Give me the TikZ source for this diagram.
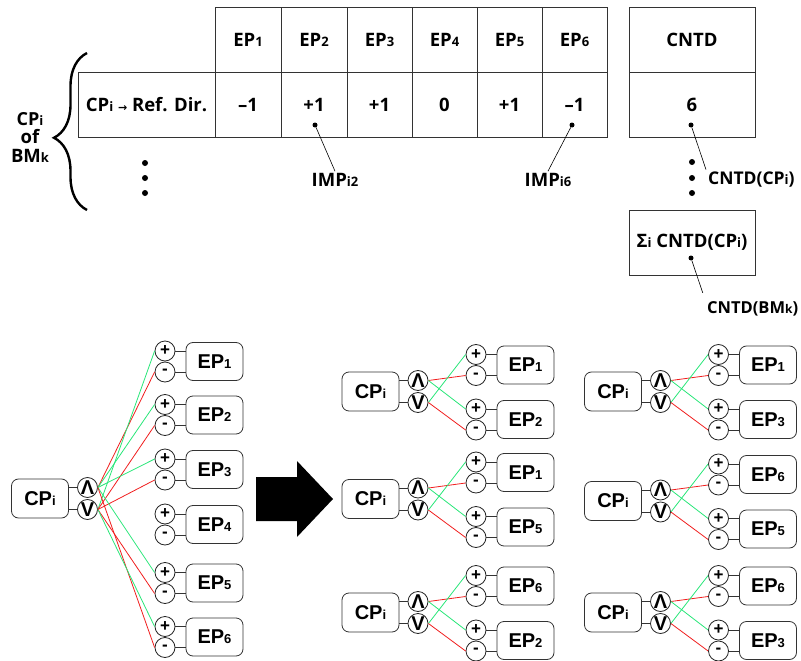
\documentclass[tikz,border=0pt]{standalone}
\usepackage{fontspec}
\usetikzlibrary{decorations.pathreplacing}
\newfontfamily\topf{Open Sans}
\newfontfamily\botf{Liberation Sans}
\newfontfamily\dvf{DejaVu Sans}
\definecolor{lgreen}{RGB}{40,230,120}
\definecolor{lred}{RGB}{240,30,30}
\newcommand\sbt[1]{{\fontsize{13}{13}\selectfont #1}}
\newcommand\sbb[1]{{\fontsize{13}{13}\selectfont #1}}
\tikzset{
  tfont/.style={font={\topf\bfseries\fontsize{18.5}{18.5}\selectfont}},
  cell/.style={draw=black!80, line width=0.8pt, minimum width=#1, minimum height=65pt, inner sep=0pt, tfont},
  lbl/.style={inner sep=2pt, tfont},
  dot/.style={circle, fill=black, minimum size=6pt, inner sep=0pt},
  sdot/.style={circle, fill=black, minimum size=5pt, inner sep=0pt},
  ann/.style={draw=black, line width=0.6pt},
  bfont/.style={font={\botf\bfseries\fontsize{20}{20}\selectfont}},
  cpbox/.style={draw=black!80, line width=0.8pt, rounded corners=7pt, minimum width=57pt, minimum height=39pt, inner sep=0pt, bfont},
  epbox/.style={draw=black!80, line width=0.8pt, rounded corners=7pt, minimum width=57pt, minimum height=38pt, inner sep=0pt, bfont},
  circ/.style={circle, draw=black!85, line width=0.8pt, minimum size=20pt, inner sep=0pt, font={\botf\bfseries\fontsize{17}{17}\selectfont}},
  lcirc/.style={circ, font={\botf\bfseries\fontsize{20}{20}\selectfont}},
  conn/.style={draw=black!80, line width=0.8pt},
  gl/.style={draw=lgreen, line width=0.8pt},
  rl/.style={draw=lred, line width=0.8pt},
}
\newcommand\CPunit[3]{%
  \node[cpbox] (#1) at (#2,#3) {CP\sbb{i}};
  \node[lcirc] (#1u) at (#2+47.5,#3-11) {Λ};
  \node[lcirc] (#1d) at (#2+47.5,#3+11) {V};
  \draw[conn] (#1u.west -| #1.east) -- (#1u.west);
  \draw[conn] (#1d.west -| #1.east) -- (#1d.west);
}
\newcommand\EPunit[4]{%
  \node[circ] (#1p) at (#2,#3-10.5) {+};
  \node[circ] (#1m) at (#2,#3+10.5) {-};
  \node[epbox] (#1b) at (#2+49.5,#3) {EP\sbb{#4}};
  \draw[conn] (#1p.east) -- (#1p.east -| #1b.west);
  \draw[conn] (#1m.east) -- (#1m.east -| #1b.west);
}
\newcommand\Group[5]{%
  \CPunit{#1}{#2}{#3}
  \EPunit{#1a}{#2+105.5}{#3-26.5}{#4}
  \EPunit{#1b}{#2+105.5}{#3+28}{#5}
  \draw[rl] (#1u.east) -- (#1am.west);
  \draw[gl] (#1u.east) -- (#1bp.west);
  \draw[gl] (#1d.east) -- (#1ap.west);
  \draw[rl] (#1d.east) -- (#1bm.west);
}
\begin{document}
\begin{tikzpicture}[x=1pt,y=-1pt]
\useasboundingbox (0,0) rectangle (801,661);
% ---------- table ----------
\node[cell=66pt] (h1) at (248,39.5) {EP\sbt{1}};
\node[cell=66pt] (h2) at (314,39.5) {EP\sbt{2}};
\node[cell=65pt] (h3) at (379.5,39.5) {EP\sbt{3}};
\node[cell=65pt] (h4) at (444.5,39.5) {EP\sbt{4}};
\node[cell=65pt] (h5) at (509.5,39.5) {EP\sbt{5}};
\node[cell=65pt] (h6) at (574.5,39.5) {EP\sbt{6}};
\node[cell=137pt] (rlab) at (146.5,104.5) {CP\sbt{i} {\dvf\fontsize{11}{11}\selectfont →} Ref. Dir.};
\node[cell=66pt] (r1) at (248,104.5) {–1};
\node[cell=66pt] (r2) at (314,104.5) {+1};
\node[cell=65pt] (r3) at (379.5,104.5) {+1};
\node[cell=65pt] (r4) at (444.5,104.5) {0};
\node[cell=65pt] (r5) at (509.5,104.5) {+1};
\node[cell=65pt] (r6) at (574.5,104.5) {–1};
\node[cell=126pt] (ch) at (692,39.5) {CNTD};
\node[cell=126pt] (cv) at (692,104.5) {6};
\node[cell=126pt] (sb) at (692,242.5) {Σ\sbt{i} CNTD(CP\sbt{i})};
% dots
\node[dot] (v1) at (145,163) {};
\node[dot] (v2) at (145,178) {};
\node[dot] (v3) at (145,193) {};
\node[dot] (w1) at (692,162) {};
\node[dot] (w2) at (692,178) {};
\node[dot] (w3) at (692,193) {};
% annotations
\node[sdot] (a1) at (315,125) {};
\node[sdot] (a2) at (572,125) {};
\node[sdot] (a3) at (691,125) {};
\node[sdot] (a4) at (691,258) {};
\node[lbl] (l1) at (335,180) {IMP\sbt{i2}};
\node[lbl] (l2) at (548,180) {IMP\sbt{i6}};
\node[lbl, anchor=west, font={\topf\bfseries\fontsize{17.5}{17.5}\selectfont}] (l3) at (706,179.5) {CNTD(CP\sbt{i})};
\node[lbl, anchor=west, font={\topf\bfseries\fontsize{16.5}{16.5}\selectfont}] (l4) at (705,309) {CNTD(BM{\fontsize{12}{12}\selectfont k})};
\draw[ann] (a1) -- (l1.north);
\draw[ann] (a2) -- (l2.north);
\draw[ann] (a3) -- (l3.north west);
\draw[ann, shorten >=7pt] (a4) -- (l4.north west);
% brace and left label
\coordinate (brb) at (87,210);
\coordinate (brt) at (87,53);
\draw[line width=2.4pt, decorate, decoration={brace, amplitude=33pt, aspect=0.46}] (brb) -- (brt);
\node[tfont, align=center, inner sep=0pt] (cpl) at (30,137) {\fontsize{18}{16.5}\selectfont CP\sbt{i}\\of\\BM\sbt{k}};
% ---------- big diagram ----------
\CPunit{B}{40}{498.5}
\EPunit{E1}{165}{361.5}{1}
\EPunit{E2}{165}{415}{2}
\EPunit{E3}{165}{469.5}{3}
\EPunit{E4}{165}{524.5}{4}
\EPunit{E5}{165}{583}{5}
\EPunit{E6}{165}{637}{6}
\draw[rl] (Bu.east) -- (E1m.west);
\draw[gl] (Bd.east) -- (E1p.west);
\draw[gl] (Bu.east) -- (E2p.west);
\draw[rl] (Bd.east) -- (E2m.west);
\draw[gl] (Bu.east) -- (E3p.west);
\draw[rl] (Bd.east) -- (E3m.west);
\draw[gl] (Bu.east) -- (E5p.west);
\draw[rl] (Bd.east) -- (E5m.west);
\draw[rl] (Bu.east) -- (E6m.west);
\draw[gl] (Bd.east) -- (E6p.west);
% arrow
\fill[black] (256,477) -- (297,477) -- (297,461) -- (333,499) -- (297,537) -- (297,521) -- (256,521) -- cycle;
% ---------- small groups ----------
\Group{G}{370.5}{391.5}{1}{2}
\Group{H}{370.5}{499}{1}{5}
\Group{I}{370.5}{612.5}{6}{2}
\Group{J}{613}{391.5}{1}{3}
\Group{K}{613}{501}{6}{5}
\Group{L}{613}{612.5}{6}{3}
\end{tikzpicture}
\end{document}
